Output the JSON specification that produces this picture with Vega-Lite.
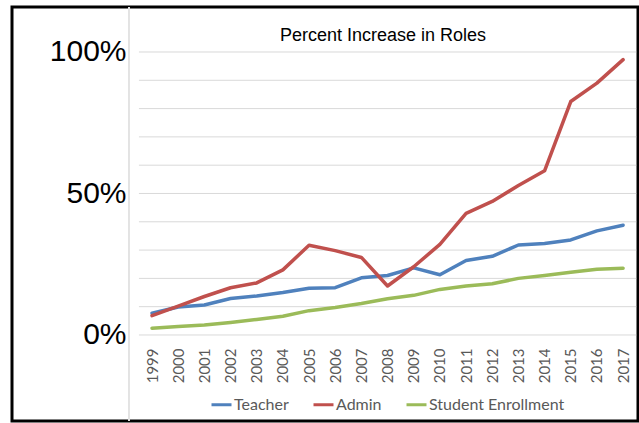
{
  "$schema": "https://vega.github.io/schema/vega-lite/v6.json",
  "width": 626,
  "height": 414,
  "autosize": {"type": "none"},
  "padding": {"left": 12, "top": 7, "right": 1, "bottom": 2},
  "background": "white",
  "title": {
    "text": "Percent Increase in Roles",
    "font": "Liberation Sans",
    "fontSize": 18,
    "fontWeight": "normal",
    "color": "#000000",
    "anchor": "middle",
    "frame": "group",
    "baseline": "alphabetic",
    "dx": 58,
    "offset": -52
  },
  "datasets": {
    "grid": [
      {"g": 0}, {"g": 10}, {"g": 20}, {"g": 30}, {"g": 40}, {"g": 50},
      {"g": 60}, {"g": 70}, {"g": 80}, {"g": 90}, {"g": 100}
    ],
    "roles": [
      {"year": 1999, "series": "Teacher", "value": 7.7},
      {"year": 2000, "series": "Teacher", "value": 9.9},
      {"year": 2001, "series": "Teacher", "value": 10.6},
      {"year": 2002, "series": "Teacher", "value": 12.9},
      {"year": 2003, "series": "Teacher", "value": 13.8},
      {"year": 2004, "series": "Teacher", "value": 15.0},
      {"year": 2005, "series": "Teacher", "value": 16.5},
      {"year": 2006, "series": "Teacher", "value": 16.7},
      {"year": 2007, "series": "Teacher", "value": 20.2},
      {"year": 2008, "series": "Teacher", "value": 21.0},
      {"year": 2009, "series": "Teacher", "value": 23.7},
      {"year": 2010, "series": "Teacher", "value": 21.3},
      {"year": 2011, "series": "Teacher", "value": 26.3},
      {"year": 2012, "series": "Teacher", "value": 27.8},
      {"year": 2013, "series": "Teacher", "value": 31.8},
      {"year": 2014, "series": "Teacher", "value": 32.3},
      {"year": 2015, "series": "Teacher", "value": 33.6},
      {"year": 2016, "series": "Teacher", "value": 36.8},
      {"year": 2017, "series": "Teacher", "value": 38.8},
      {"year": 1999, "series": "Admin", "value": 6.8},
      {"year": 2000, "series": "Admin", "value": 10.2},
      {"year": 2001, "series": "Admin", "value": 13.6},
      {"year": 2002, "series": "Admin", "value": 16.7},
      {"year": 2003, "series": "Admin", "value": 18.4},
      {"year": 2004, "series": "Admin", "value": 23.0},
      {"year": 2005, "series": "Admin", "value": 31.7},
      {"year": 2006, "series": "Admin", "value": 29.8},
      {"year": 2007, "series": "Admin", "value": 27.4},
      {"year": 2008, "series": "Admin", "value": 17.3},
      {"year": 2009, "series": "Admin", "value": 24.1},
      {"year": 2010, "series": "Admin", "value": 32.0},
      {"year": 2011, "series": "Admin", "value": 43.0},
      {"year": 2012, "series": "Admin", "value": 47.2},
      {"year": 2013, "series": "Admin", "value": 52.8},
      {"year": 2014, "series": "Admin", "value": 58.0},
      {"year": 2015, "series": "Admin", "value": 82.5},
      {"year": 2016, "series": "Admin", "value": 89.0},
      {"year": 2017, "series": "Admin", "value": 97.3},
      {"year": 1999, "series": "Student Enrollment", "value": 2.4},
      {"year": 2000, "series": "Student Enrollment", "value": 3.0},
      {"year": 2001, "series": "Student Enrollment", "value": 3.5},
      {"year": 2002, "series": "Student Enrollment", "value": 4.4},
      {"year": 2003, "series": "Student Enrollment", "value": 5.5},
      {"year": 2004, "series": "Student Enrollment", "value": 6.6},
      {"year": 2005, "series": "Student Enrollment", "value": 8.6},
      {"year": 2006, "series": "Student Enrollment", "value": 9.7},
      {"year": 2007, "series": "Student Enrollment", "value": 11.1},
      {"year": 2008, "series": "Student Enrollment", "value": 12.8},
      {"year": 2009, "series": "Student Enrollment", "value": 14.0},
      {"year": 2010, "series": "Student Enrollment", "value": 16.1},
      {"year": 2011, "series": "Student Enrollment", "value": 17.3},
      {"year": 2012, "series": "Student Enrollment", "value": 18.1},
      {"year": 2013, "series": "Student Enrollment", "value": 20.0},
      {"year": 2014, "series": "Student Enrollment", "value": 21.0},
      {"year": 2015, "series": "Student Enrollment", "value": 22.2},
      {"year": 2016, "series": "Student Enrollment", "value": 23.2},
      {"year": 2017, "series": "Student Enrollment", "value": 23.6}
    ]
  },
  "layer": [
    {
      "data": {"name": "grid"},
      "mark": {"type": "rule", "color": "#d9d9d9", "strokeWidth": 1},
      "encoding": {
        "y": {"field": "g", "type": "quantitative"},
        "x": {"datum": 1998.5, "type": "quantitative"},
        "x2": {"datum": 2017.5}
      }
    },
    {
      "data": {"name": "grid"},
      "mark": {"type": "rule", "color": "#e3e3e3", "strokeWidth": 1},
      "encoding": {
        "x": {"datum": 1998.12, "type": "quantitative"}
      }
    },
    {
      "data": {"name": "roles"},
      "mark": {"type": "line", "strokeWidth": 3.5, "strokeJoin": "round", "strokeCap": "round"},
      "encoding": {
        "x": {"field": "year", "type": "quantitative"},
        "y": {"field": "value", "type": "quantitative"},
        "color": {
          "field": "series", "type": "nominal",
          "scale": {"domain": ["Teacher", "Admin", "Student Enrollment"],
                    "range": ["#4F81BD", "#C0504D", "#9BBB59"]},
          "legend": {
            "title": null,
            "orient": "none",
            "legendX": 198,
            "legendY": 386,
            "direction": "horizontal",
            "symbolType": "stroke",
            "symbolSize": 400,
            "symbolStrokeWidth": 3,
            "labelFont": "Lato",
            "labelFontSize": 16,
            "labelColor": "#595959",
            "labelOffset": 1,
            "columnPadding": 18
          }
        }
      }
    }
  ],
  "resolve": {"scale": {"x": "shared", "y": "shared"}},
  "encoding": {
    "x": {
      "type": "quantitative",
      "scale": {"domain": [1993.65, 2017.57], "nice": false, "zero": false},
      "axis": {
        "title": null,
        "values": [1999, 2000, 2001, 2002, 2003, 2004, 2005, 2006, 2007, 2008, 2009, 2010, 2011, 2012, 2013, 2014, 2015, 2016, 2017],
        "format": "d",
        "labelAngle": -90,
        "labelFont": "Lato",
        "labelFontSize": 15,
        "labelColor": "#595959",
        "labelPadding": 0,
        "labelFlush": false,
        "labelOverlap": false,
        "ticks": false,
        "domain": false,
        "grid": false,
        "offset": -73
      }
    },
    "y": {
      "type": "quantitative",
      "scale": {"domain": [-30.4, 115.9], "nice": false, "zero": false},
      "axis": {
        "title": null,
        "values": [0, 50, 100],
        "labelExpr": "datum.value + '%'",
        "labelFont": "Liberation Sans",
        "labelFontSize": 30,
        "labelColor": "#000000",
        "labelPadding": 0,
        "labelFlush": false,
        "labelOverlap": false,
        "ticks": false,
        "domain": false,
        "grid": false,
        "offset": -114
      }
    }
  },
  "config": {
    "view": {"stroke": "#000000", "strokeWidth": 3}
  }
}
